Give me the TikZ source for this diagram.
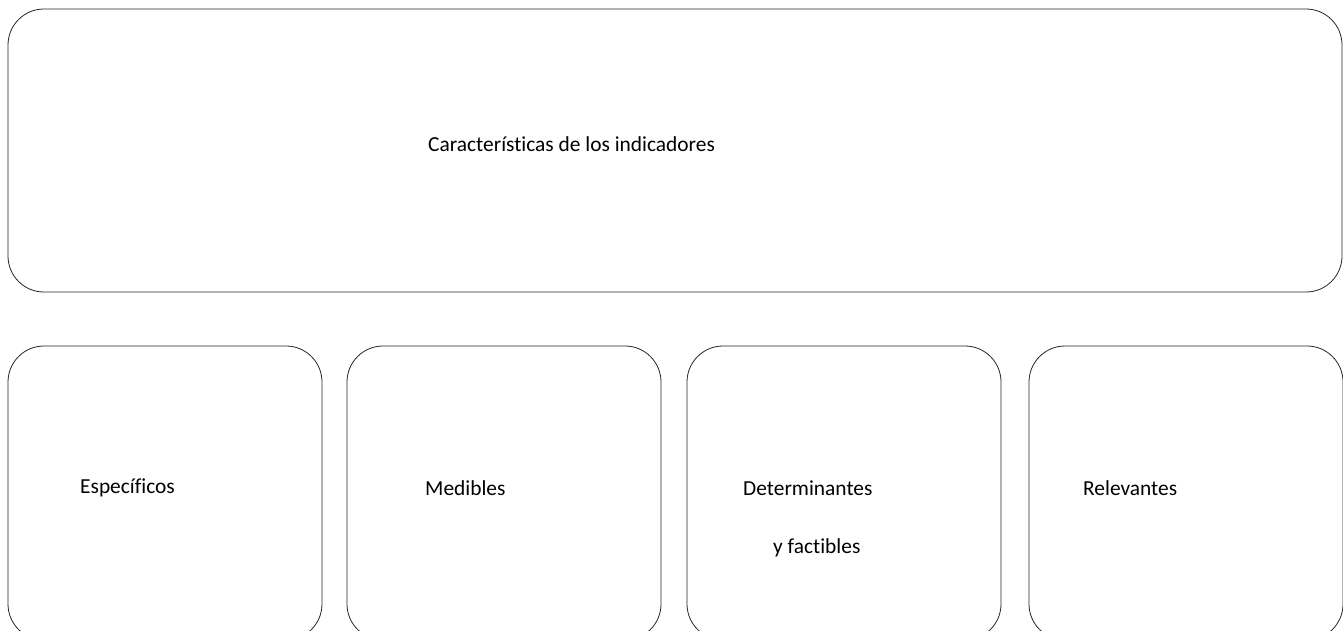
\documentclass[tikz,border=0pt]{standalone}
\usepackage{fontspec}
\setmainfont[Ligatures=CommonOff]{Carlito}
\tikzset{
  caja/.style = {draw=black!85, line width=0.8pt, rounded corners=36pt,
    inner sep=0pt},% recuadro
  caja_p/.style = {caja, minimum width=314pt, minimum height=294pt},% recuadro pequeno
  txt/.style = {anchor=west, inner sep=0pt, font=\fontsize{21.4}{25}\selectfont}% texto
}
\begin{document}
\begin{tikzpicture}[x=1pt,y=-1pt]
  \useasboundingbox (0,0) rectangle (1343,630);
  \clip (0,0) rectangle (1343,630);
  % recuadro superior
  \node [caja, minimum width=1334pt, minimum height=283pt] (sup) at (675,150.5) {};
  \node [txt] (tsup) at (428,144) {Características de los indicadores};
  % recuadros inferiores
  \node [caja_p] (esp) at (165,493) {};
  \node [caja_p] (med) at (504,493) {};
  \node [caja_p] (det) at (844,493) {};
  \node [caja_p] (rel) at (1186,493) {};
  \node [txt] (tesp) at (80,488) {Específicos};
  \node [txt] (tmed) at (425,488) {Medibles};
  \node [txt] (tdet) at (743,488) {Determinantes};
  \node [txt] (tdet2) at (773,548) {y factibles};
  \node [txt] (trel) at (1083,488) {Relevantes};
\end{tikzpicture}
\end{document}
